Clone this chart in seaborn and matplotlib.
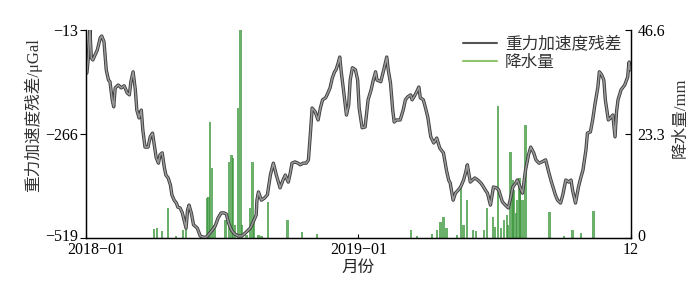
import numpy as np
import pandas as pd
import matplotlib
matplotlib.use("Agg")
import matplotlib.pyplot as plt
import matplotlib.patheffects as pe
import matplotlib.transforms as mtransforms
from matplotlib.lines import Line2D
import seaborn as sns

# ---- data (days after 2018-01-01) ----
grav_day = [1, 3, 5, 7, 9, 12, 15, 19, 21, 24, 27, 30, 32, 35, 37, 39, 43, 47, 51, 55,
            58, 60, 63, 66, 68, 71, 74, 76, 79, 83, 86, 89, 91, 94, 97, 99, 102, 105, 107, 110,
            113, 115, 118, 121, 123, 126, 129, 132, 134, 136, 138, 141, 144, 146, 149, 153, 157, 161, 165, 169,
            173, 177, 181, 185, 188, 191, 195, 199, 204, 209, 215, 220, 224, 228, 229, 231, 235, 239, 243, 247,
            251, 255, 258, 260, 264, 267, 271, 274, 276, 280, 284, 287, 291, 295, 298, 301, 303, 307, 311, 314,
            317, 321, 323, 327, 330, 333, 335, 338, 340, 342, 345, 349, 352, 354, 357, 361, 364, 366, 370, 374,
            378, 382, 385, 388, 390, 395, 399, 403, 405, 408, 411, 413, 416, 421, 425, 428, 431, 435, 437, 440,
            443, 446, 448, 452, 455, 458, 462, 466, 470, 474, 476, 479, 483, 486, 488, 492, 495, 499, 502, 506,
            509, 511, 515, 521, 525, 529, 531, 535, 538, 542, 546, 550, 553, 556, 558, 562, 566, 569, 572, 576,
            578, 582, 585, 589, 593, 596, 600, 603, 607, 611, 616, 620, 623, 625, 629, 632, 636, 639, 643, 647,
            650, 652, 656, 660, 663, 666, 670, 672, 676, 679, 682, 686, 688, 691, 694, 696, 700, 703, 706, 709,
            711, 713, 717, 719, 722, 726, 727, 728, 729]
grav_val = [-118, -81, -8, -81, -86, -74, -62, -32, -28, -42, -110, -135, -139, -183, -200, -154, -147, -154, -149, -166,
            -171, -139, -115, -159, -208, -227, -208, -256, -298, -298, -273, -264, -288, -324, -337, -317, -312, -349, -366, -373,
            -390, -414, -427, -434, -444, -446, -458, -480, -495, -451, -439, -458, -487, -490, -495, -514, -517, -517, -509, -500,
            -490, -470, -458, -458, -461, -483, -500, -509, -514, -514, -504, -495, -480, -463, -427, -407, -427, -422, -414, -366,
            -337, -366, -385, -397, -378, -366, -383, -358, -337, -334, -337, -341, -337, -337, -329, -256, -203, -212, -232, -203,
            -183, -178, -171, -154, -130, -115, -110, -93, -79, -115, -159, -220, -195, -135, -105, -110, -135, -203, -251, -249,
            -183, -159, -135, -115, -135, -139, -110, -79, -110, -142, -208, -237, -232, -232, -208, -183, -176, -171, -183, -174,
            -164, -152, -178, -183, -203, -225, -273, -288, -276, -300, -305, -312, -354, -378, -385, -427, -410, -402, -395, -378,
            -358, -341, -383, -373, -378, -385, -390, -402, -410, -439, -395, -397, -402, -419, -431, -439, -446, -422, -395, -385,
            -378, -397, -410, -354, -317, -298, -312, -329, -337, -334, -329, -358, -378, -390, -414, -427, -434, -414, -378, -383,
            -378, -402, -434, -395, -373, -354, -305, -264, -261, -232, -195, -152, -115, -122, -135, -183, -232, -227, -220, -273,
            -212, -183, -159, -154, -147, -127, -105, -91, -110]

rain_day = [91, 95, 102, 110, 121, 130, 134, 162, 164, 166, 169, 172, 187, 192, 195, 197, 200, 204, 207, 209,
            215, 220, 223, 225, 231, 235, 244, 270, 289, 309, 435, 444, 464, 470, 475, 479, 483, 497, 503, 506,
            511, 519, 523, 533, 537, 545, 548, 552, 556, 560, 564, 566, 569, 572, 573, 576, 578, 581, 582, 585,
            589, 621, 641, 652, 663, 680]
rain_mm = [2.0, 2.2, 1.6, 6.7, 0.5, 1.8, 2.9, 9.0, 9.2, 26.0, 15.7, 2.9, 4.0, 17.0, 18.6, 17.9, 2.9, 29.1, 46.6, 2.9,
           0.7, 6.7, 17.0, 4.0, 0.7, 0.5, 8.1, 4.0, 1.3, 0.9, 1.8, 0.5, 0.9, 1.8, 3.6, 4.7, 2.2, 0.7, 11.4, 2.9,
           8.5, 1.8, 1.6, 1.8, 6.7, 4.7, 2.5, 29.6, 2.2, 4.0, 5.2, 2.9, 19.3, 13.0, 10.8, 5.6, 8.5, 13.4, 11.4, 8.5,
           25.3, 5.8, 0.5, 1.8, 1.1, 6.0]

xtick_labels = ["2018\u221201", "2019\u221201", "12"]
left_ticks = [-519, -266, -13]
right_ticks = [0, 23.3, 46.6]
right_tick_labels = ["0", "23.3", "46.6"]
series_names = ["重力加速度残差", "降水量"]

# ---- style ----
sns.set_theme(style="white")
plt.rcParams["font.family"] = ["Liberation Serif", "Noto Sans CJK SC", "DejaVu Sans"]
plt.rcParams["axes.edgecolor"] = "black"
plt.rcParams["axes.linewidth"] = 0.9

fig = plt.figure(figsize=(7.0, 2.82), dpi=100)
ax = fig.add_axes([0.123, 0.156, 0.778, 0.738])
ax2 = ax.twinx()

base = pd.Timestamp("2018-01-01")
df = pd.DataFrame({"date": base + pd.to_timedelta(grav_day, unit="D"), "val": grav_val})
rain_dates = base + pd.to_timedelta(rain_day, unit="D")

ax2.bar(rain_dates, rain_mm, width=3.0, color="#3a963a", alpha=0.75, linewidth=0)

sns.lineplot(data=df, x="date", y="val", ax=ax, color="#9a9a9a", linewidth=1.1,
             path_effects=[pe.Stroke(linewidth=2.4, foreground="#3c3c3c"), pe.Normal()])

ax.set_zorder(ax2.get_zorder() + 1)
ax.patch.set_visible(False)

xmin, xmax = base, base + pd.Timedelta(days=730)
ax.set_xlim(xmin, xmax)
ax.set_ylim(-519, -13)
ax2.set_ylim(0, 46.6)

ax.set_xticks([base, base + pd.Timedelta(days=365), xmax])
ax.set_xticklabels(xtick_labels, fontsize=11.5)
ax.set_yticks(left_ticks)
ax.set_yticklabels([f"{v:d}".replace("-", "\u2212") for v in left_ticks], fontsize=11.5)
ax2.set_yticks(right_ticks)
ax2.set_yticklabels(right_tick_labels, fontsize=11.5)

ax.tick_params(axis="y", left=True, direction="out", length=4, width=0.8, pad=2, colors="black")
ax.tick_params(axis="x", bottom=True, direction="in", length=3, width=0.8, pad=3, colors="black")
ax2.tick_params(axis="y", right=True, direction="in", length=4, width=0.8, pad=5, colors="black")

for a in (ax, ax2):
    a.spines["top"].set_visible(False)

def shift(label, dx, dy):
    label.set_transform(label.get_transform() +
                        mtransforms.ScaledTranslation(dx / 100, dy / 100, fig.dpi_scale_trans))

shift(ax.get_xticklabels()[0], 10, 0)
shift(ax.get_yticklabels()[0], 0, 3)
shift(ax2.get_yticklabels()[0], 0, 3)

ax.set_xlabel("月份", fontsize=12, color="#222222", labelpad=1)
ax.set_ylabel("重力加速度残差/μGal", fontsize=12, color="#333333")
ax.yaxis.set_label_coords(-0.081, 0.59)
ax2.set_ylabel("降水量/mm", fontsize=12, color="#333333")
ax2.yaxis.set_label_coords(1.077, 0.58)

handles = [Line2D([], [], color="#555555", lw=1.5), Line2D([], [], color="#8fc46e", lw=1.5)]
leg = ax.legend(handles, series_names, loc="upper right", bbox_to_anchor=(0.995, 1.0),
                frameon=False, fontsize=12, handlelength=2.0, handletextpad=0.5,
                labelspacing=0.15, borderaxespad=0.0)
for t in leg.get_texts():
    t.set_color("#333333")

fig.savefig("out.png", dpi=100)
